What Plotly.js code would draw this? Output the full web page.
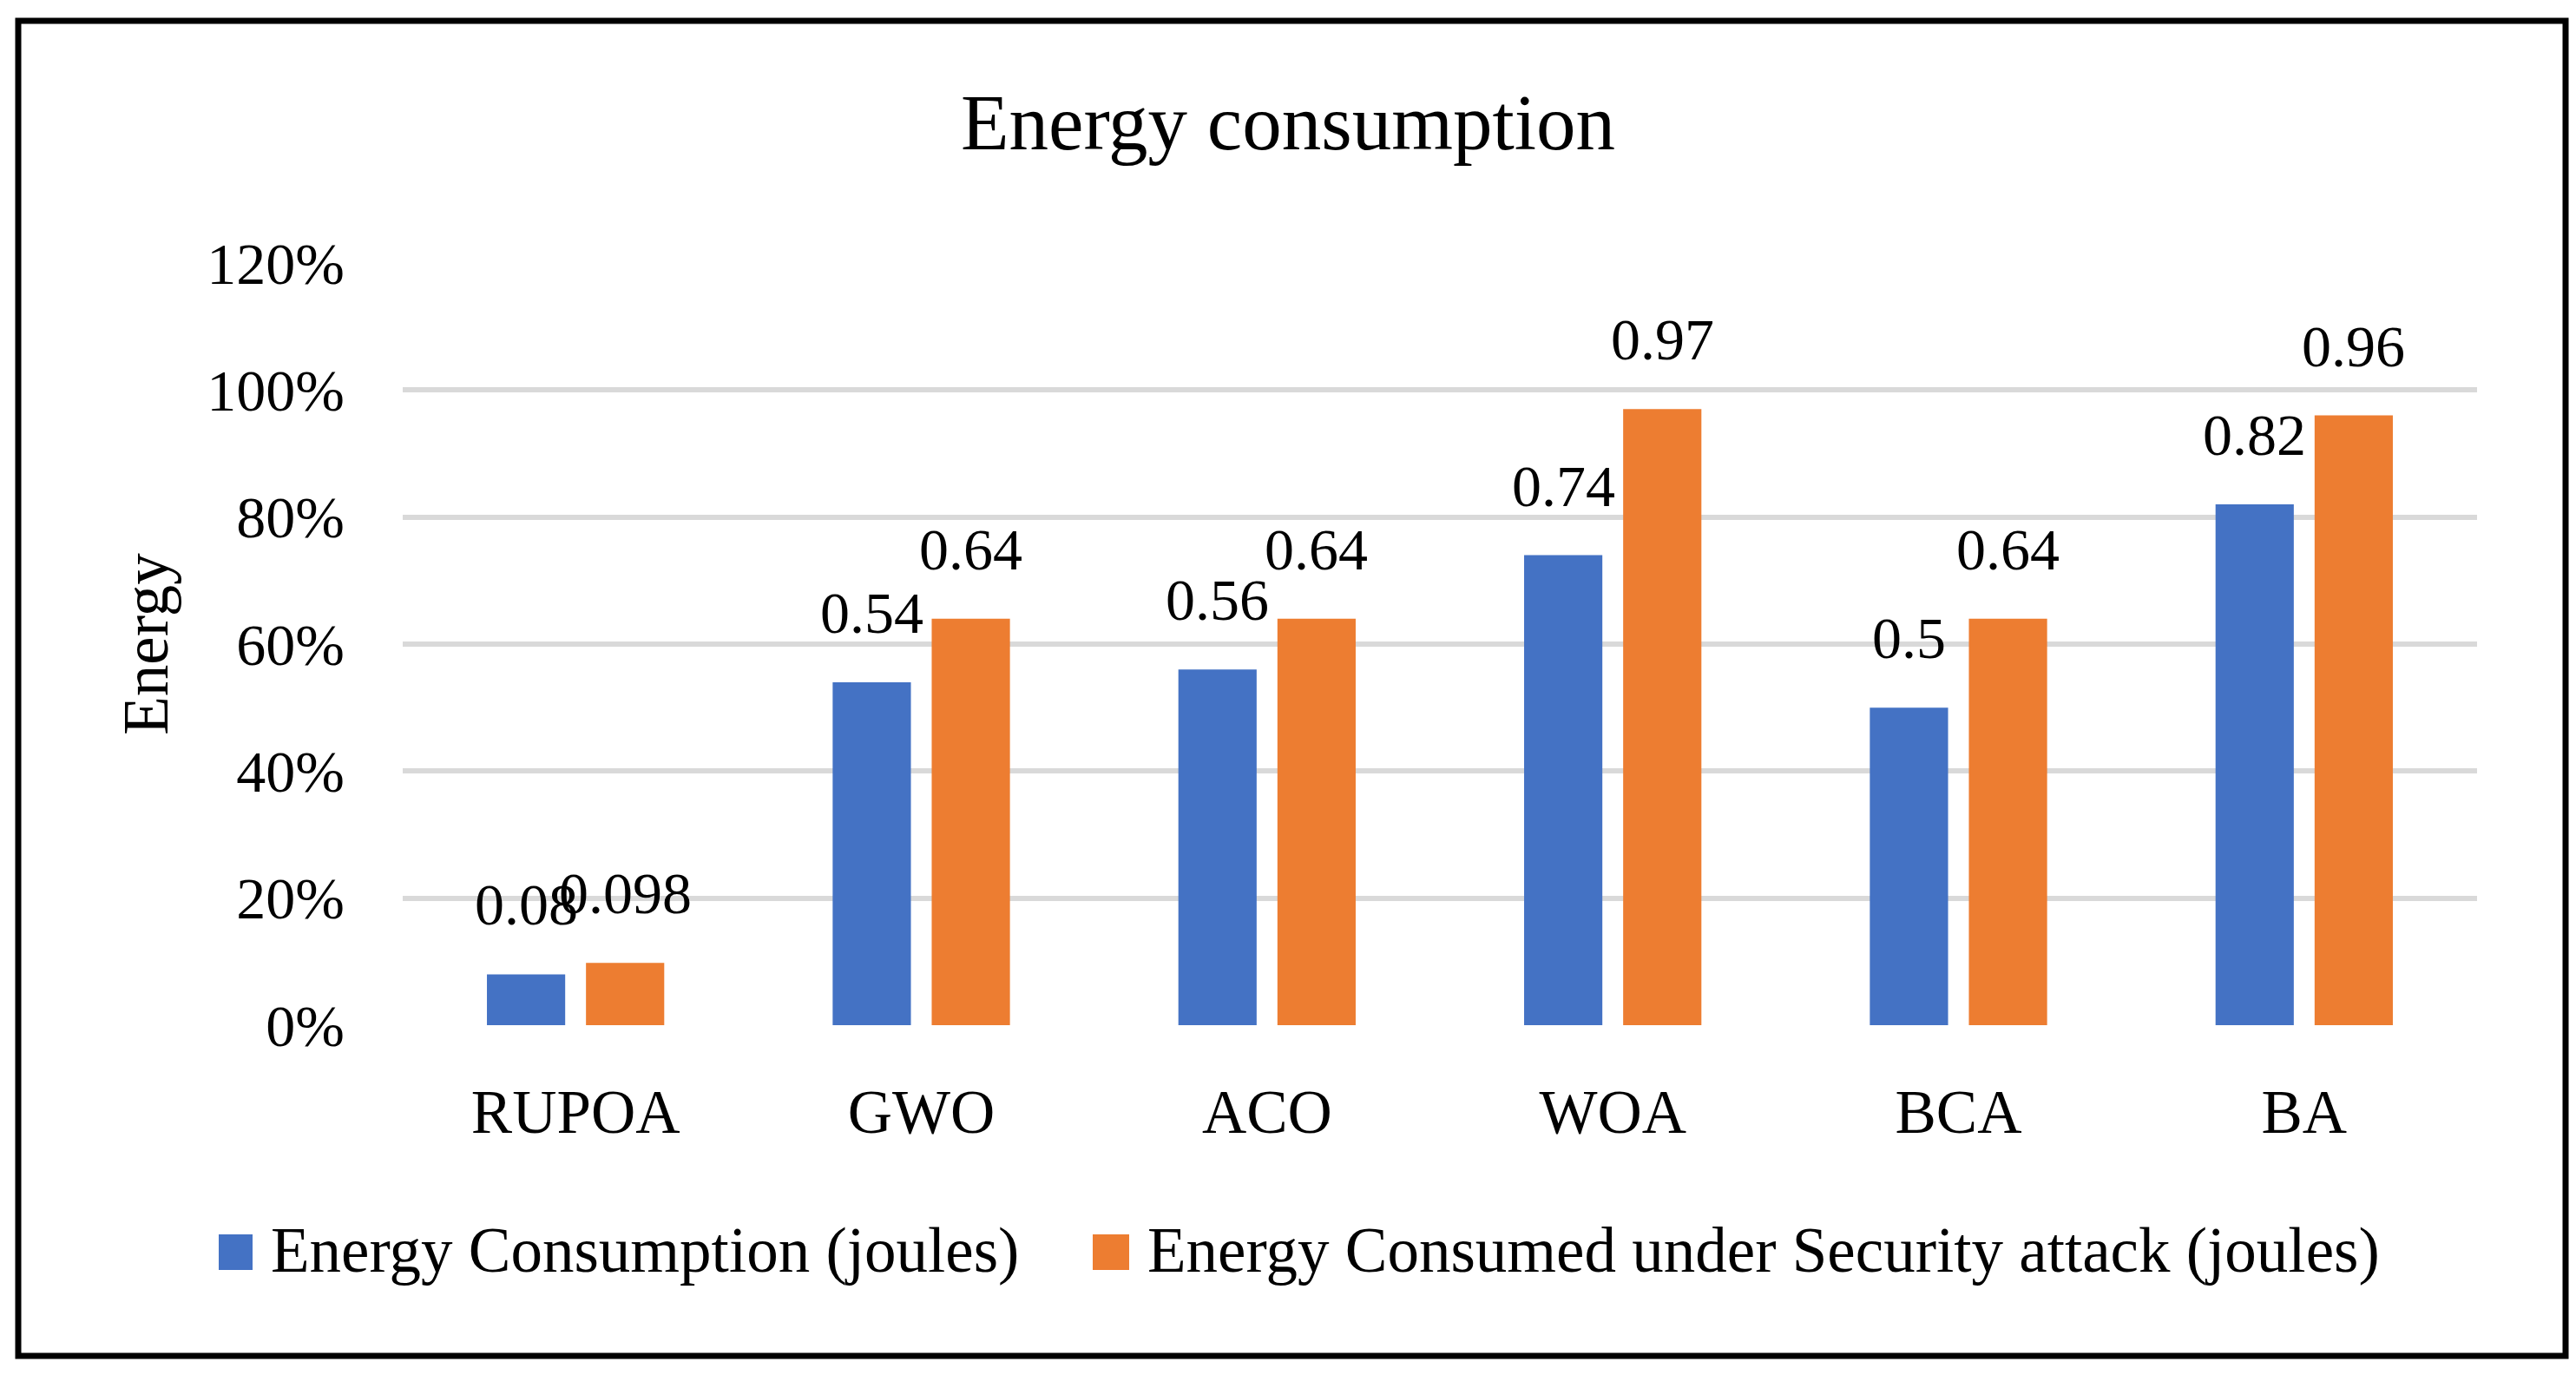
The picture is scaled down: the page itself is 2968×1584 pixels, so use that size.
<!DOCTYPE html>
<html>
<head>
<meta charset="utf-8">
<script src="https://cdn.plot.ly/plotly-3.0.1.min.js"></script>
<style>
  html, body { margin: 0; padding: 0; background: #ffffff; }
  #chart { width: 2968px; height: 1584px; }
</style>
</head>
<body>
<div id="chart"></div>
<script>
const categories = ["RUPOA", "GWO", "ACO", "WOA", "BCA", "BA"];
const seriesNames = ["Energy Consumption (joules)", "Energy Consumed under Security attack (joules)"];
const energyConsumption = [0.08, 0.54, 0.56, 0.74, 0.5, 0.82];
const energyUnderAttack = [0.098, 0.64, 0.64, 0.97, 0.64, 0.96];
const yTickVals = [0, 0.2, 0.4, 0.6, 0.8, 1.0, 1.2];
const colors = ["#4472C4", "#ED7D31"];

const FONT = "Liberation Serif, Times New Roman, serif";
const FS = 68;

// plot area geometry (pixels)
const W = 2968, H = 1584;
const L = 464, R = 114, T = 303, B = 403;
const PW = W - L - R, PH = H - T - B;
const px = x => (x - L) / PW;
const py = y => (H - B - y) / PH;

const seriesValues = [energyConsumption, energyUnderAttack];

const traces = seriesValues.map((vals, i) => ({
  type: "bar",
  name: seriesNames[i],
  x: categories,
  y: vals,
  marker: { color: colors[i] },
  showlegend: false,
  hoverinfo: "x+y"
}));

// data labels
const slot = PW / categories.length * (1 - 0.427) / 2;
const annotations = [];
seriesValues.forEach((vals, i) => {
  vals.forEach((v, j) => {
    annotations.push({
      x: categories[j], y: v, xref: "x", yref: "y",
      text: String(v), showarrow: false,
      xanchor: "center", yanchor: "bottom",
      xshift: (i === 0 ? -1 : 1) * slot / 2,
      yshift: 40,
      font: { family: FONT, size: FS, color: "#000000" }
    });
  });
});

// custom legend
const legendItems = [
  { sq: [252, 291], tx: 310 },
  { sq: [1259, 1301], tx: 1320 }
];
const shapes = [];
legendItems.forEach((it, i) => {
  shapes.push({
    type: "rect", xref: "paper", yref: "paper",
    x0: px(it.sq[0]), x1: px(it.sq[1]), y0: py(1463), y1: py(1422),
    fillcolor: colors[i], line: { width: 0 }
  });
  annotations.push({
    xref: "paper", yref: "paper", x: px(it.tx), y: py(1440),
    xanchor: "left", yanchor: "middle", showarrow: false,
    text: seriesNames[i],
    font: { family: FONT, size: 73, color: "#000000" }
  });
});

// outer border
shapes.push({
  type: "rect", xref: "paper", yref: "paper",
  x0: px(21), x1: px(2956), y0: py(1562), y1: py(24),
  line: { color: "#000000", width: 7 }, fillcolor: "rgba(0,0,0,0)", layer: "above"
});

const layout = {
  width: W, height: H,
  margin: { l: L, r: R, t: T, b: B },
  paper_bgcolor: "#ffffff",
  plot_bgcolor: "#ffffff",
  font: { family: FONT, size: FS, color: "#000000" },
  title: {
    text: "Energy consumption",
    font: { family: FONT, size: 91, color: "#000000" },
    x: 0.5, xref: "container", xanchor: "center",
    y: 1 - 108 / H, yref: "container", yanchor: "top"
  },
  barmode: "group",
  bargap: 0.427,
  bargroupgap: 0.21,
  xaxis: {
    type: "category",
    showgrid: false, zeroline: false, showline: false,
    ticks: "", ticklabelstandoff: 52,
    tickfont: { family: FONT, size: 71, color: "#000000" }
  },
  yaxis: {
    range: [0, 1.2], autorange: false,
    tickvals: yTickVals, tickformat: ".0%",
    showgrid: true, gridcolor: "#d9d9d9", gridwidth: 6,
    zeroline: false, showline: false, ticks: "",
    ticklabelstandoff: 66,
    tickfont: { family: FONT, size: FS, color: "#000000" },
    title: { text: "Energy", standoff: 20, font: { family: FONT, size: 73, color: "#000000" } }
  },
  shapes: shapes,
  annotations: annotations,
  showlegend: false
};

Plotly.newPlot("chart", traces, layout, { displayModeBar: false, staticPlot: true });
</script>
</body>
</html>
